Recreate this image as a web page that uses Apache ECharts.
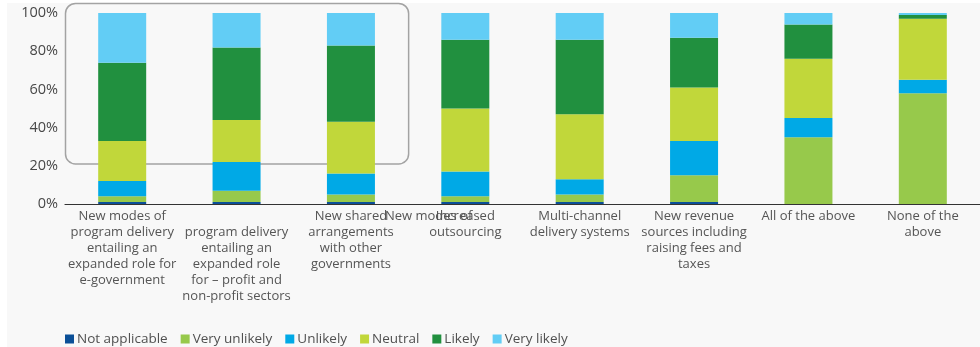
<!DOCTYPE html>
<html>
<head>
<meta charset="utf-8">
<script src="https://cdn.jsdelivr.net/npm/echarts@6/dist/echarts.min.js"></script>
<style>
  html, body { margin: 0; padding: 0; background: #ffffff; }
  #panel { position: absolute; left: 7px; top: 3px; width: 973px; height: 344px; background: #f8f8f8; }
  #chart { position: absolute; left: 0; top: 0; width: 980px; height: 347px; }
</style>
</head>
<body>
<div id="panel"></div>
<div id="chart"></div>
<script>
// Likelihood of each service-delivery change, share of respondents (%)
const categories = [
  'New modes of\nprogram delivery\nentailing an\nexpanded role for\ne-government',
  '\nprogram delivery\nentailing an\nexpanded role\nfor – profit and\nnon-profit sectors',
  'New shared\narrangements\nwith other\ngovernments',
  'Increased\noutsourcing',
  'Multi-channel\ndelivery systems',
  'New revenue\nsources including\nraising fees and\ntaxes',
  'All of the above',
  'None of the\nabove'
];
const seriesNames = ['Not applicable', 'Very unlikely', 'Unlikely', 'Neutral', 'Likely', 'Very likely'];
const notApplicable = [1, 1, 1, 1, 1, 1, 0, 0];
const veryUnlikely  = [3, 6, 4, 3, 4, 14, 35, 58];
const unlikely      = [8, 15, 11, 13, 8, 18, 10, 7];
const neutral       = [21, 22, 27, 33, 34, 28, 31, 32];
const likely        = [41, 38, 40, 36, 39, 26, 18, 2];
const veryLikely    = [26, 18, 17, 14, 14, 13, 6, 1];
const yTicks = [0, 20, 40, 60, 80, 100];
const colors = ['#0b4f97', '#97c94b', '#00a9e6', '#c1d73a', '#21903f', '#62cdf5'];

const values = [notApplicable, veryUnlikely, unlikely, neutral, likely, veryLikely];
const font = "'Open Sans', 'Noto Sans', sans-serif";

const chart = echarts.init(document.getElementById('chart'), null, { renderer: 'canvas' });

chart.setOption({
  backgroundColor: 'transparent',
  animation: false,
  color: colors,
  textStyle: { fontFamily: font },
  grid: { left: 65, top: 13, width: 922, height: 191, containLabel: false },
  legend: {
    data: seriesNames,
    left: 65,
    top: 332,
    padding: 0,
    icon: 'rect',
    itemWidth: 9,
    itemHeight: 9,
    itemGap: 13,
    textStyle: { fontFamily: font, fontSize: 13.5, color: '#505050', padding: [0, 0, 0, -2] }
  },
  xAxis: {
    type: 'category',
    data: categories,
    axisLine: { show: true, lineStyle: { color: '#333', width: 1.2 } },
    axisTick: { show: false },
    axisLabel: {
      interval: 0,
      margin: 4,
      fontFamily: font,
      fontSize: 13,
      lineHeight: 16,
      color: '#555',
      align: 'center'
    }
  },
  yAxis: {
    type: 'value',
    min: yTicks[0],
    max: yTicks[yTicks.length - 1],
    interval: yTicks[1] - yTicks[0],
    axisLine: { show: false },
    axisTick: { show: false },
    splitLine: { show: false },
    axisLabel: {
      margin: 7,
      fontFamily: font,
      fontSize: 14.5,
      color: '#484848',
      formatter: '{value}%'
    }
  },
  series: seriesNames.map((name, i) => ({
    name: name,
    type: 'bar',
    stack: 'total',
    barWidth: 48,
    clip: false,
    data: values[i],
    itemStyle: { color: colors[i] }
  }))
});

// Highlight frame around the first three groups, and the stray first line of the second label
function drawOverlay() {
  const x0 = chart.convertToPixel({ xAxisIndex: 0 }, 0);
  const x1 = chart.convertToPixel({ xAxisIndex: 0 }, 1);
  const x2 = chart.convertToPixel({ xAxisIndex: 0 }, 2);
  const band = x1 - x0;
  const left = x0 - band / 2;
  const right = x2 + band / 2;
  const top = chart.convertToPixel({ yAxisIndex: 0 }, 105);
  const bottom = chart.convertToPixel({ yAxisIndex: 0 }, 21);
  const axisY = chart.convertToPixel({ yAxisIndex: 0 }, 0);
  chart.setOption({
    graphic: [
      {
        type: 'rect',
        z: 0,
        shape: { x: left + 0.5, y: top, width: right - left, height: bottom - top, r: 10 },
        style: { fill: 'none', stroke: '#a3a3a3', lineWidth: 1.5 }
      },
      {
        type: 'text',
        z: 5,
        x: x2 + 34,
        y: axisY + 12,
        style: {
          text: 'New modes of',
          fill: '#555',
          font: "13px 'Open Sans', 'Noto Sans', sans-serif",
          textAlign: 'left',
          textVerticalAlign: 'middle'
        }
      }
    ]
  });
}
drawOverlay();
</script>
</body>
</html>
